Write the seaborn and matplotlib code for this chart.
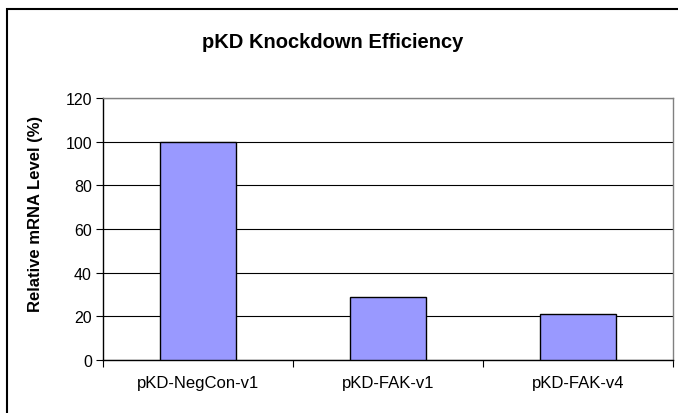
import matplotlib
matplotlib.use('Agg')
import matplotlib.pyplot as plt
import seaborn as sns
import pandas as pd
from matplotlib.patches import Rectangle

constructs = ['pKD-NegCon-v1', 'pKD-FAK-v1', 'pKD-FAK-v4']
mrna_level = [100, 29, 21]
y_ticks = [0, 20, 40, 60, 80, 100, 120]

sns.set_style('white')
plt.rcParams['font.family'] = ['Liberation Sans', 'DejaVu Sans']
plt.rcParams['text.color'] = 'black'
plt.rcParams['xtick.color'] = 'black'
plt.rcParams['ytick.color'] = 'black'

df = pd.DataFrame({'construct': constructs, 'level': mrna_level})

fig = plt.figure(figsize=(6.78, 4.14), dpi=100)
ax = fig.add_axes([103 / 678, 1 - 361 / 414, 570 / 678, 262 / 414])

sns.barplot(data=df, x='construct', y='level', color='#9999FF', width=0.4,
            edgecolor='black', linewidth=1, saturation=1, ax=ax, zorder=3)

ax.set_ylim(0, 120)
ax.set_xlim(-0.5, 2.5)
ax.set_yticks(y_ticks)
ax.yaxis.grid(True, color='black', linewidth=0.8)
ax.set_axisbelow(True)
ax.set_xlabel('')
ax.set_ylabel('')

# category boundary ticks like excel
ax.set_xticks([0, 1, 2], constructs)
ax.set_xticks([-0.5, 0.5, 1.5, 2.5], minor=True)
ax.tick_params(axis='x', which='major', length=0, pad=11, labelsize=12, labelcolor='black')
ax.tick_params(axis='x', which='minor', length=5, width=0.8, color='black', direction='out', bottom=True)
ax.tick_params(axis='y', length=5, width=0.8, color='black', direction='out', left=True,
               labelsize=11.5, pad=3, labelcolor='black')

for side in ['left', 'bottom']:
    ax.spines[side].set_color('black')
    ax.spines[side].set_linewidth(1)
for side in ['top', 'right']:
    ax.spines[side].set_visible(True)
    ax.spines[side].set_color('#808080')
    ax.spines[side].set_linewidth(1)

fig.text(0.491, 1 - 42 / 414, 'pKD Knockdown Efficiency', ha='center', va='center',
         fontsize=14.5, fontweight='bold', color='black')
fig.text(36 / 678, 1 - 214 / 414, 'Relative mRNA Level (%)', ha='center', va='center',
         rotation=90, fontsize=12, fontweight='bold', color='black')

# chart area border, right and bottom edges fall off the image
fig.patches.append(Rectangle((7 / 678, -0.1), 1.2, 1 - 10 / 414 + 0.1, transform=fig.transFigure,
                             fill=False, edgecolor='black', linewidth=1.5, clip_on=False))

fig.savefig('out.png', dpi=100)
